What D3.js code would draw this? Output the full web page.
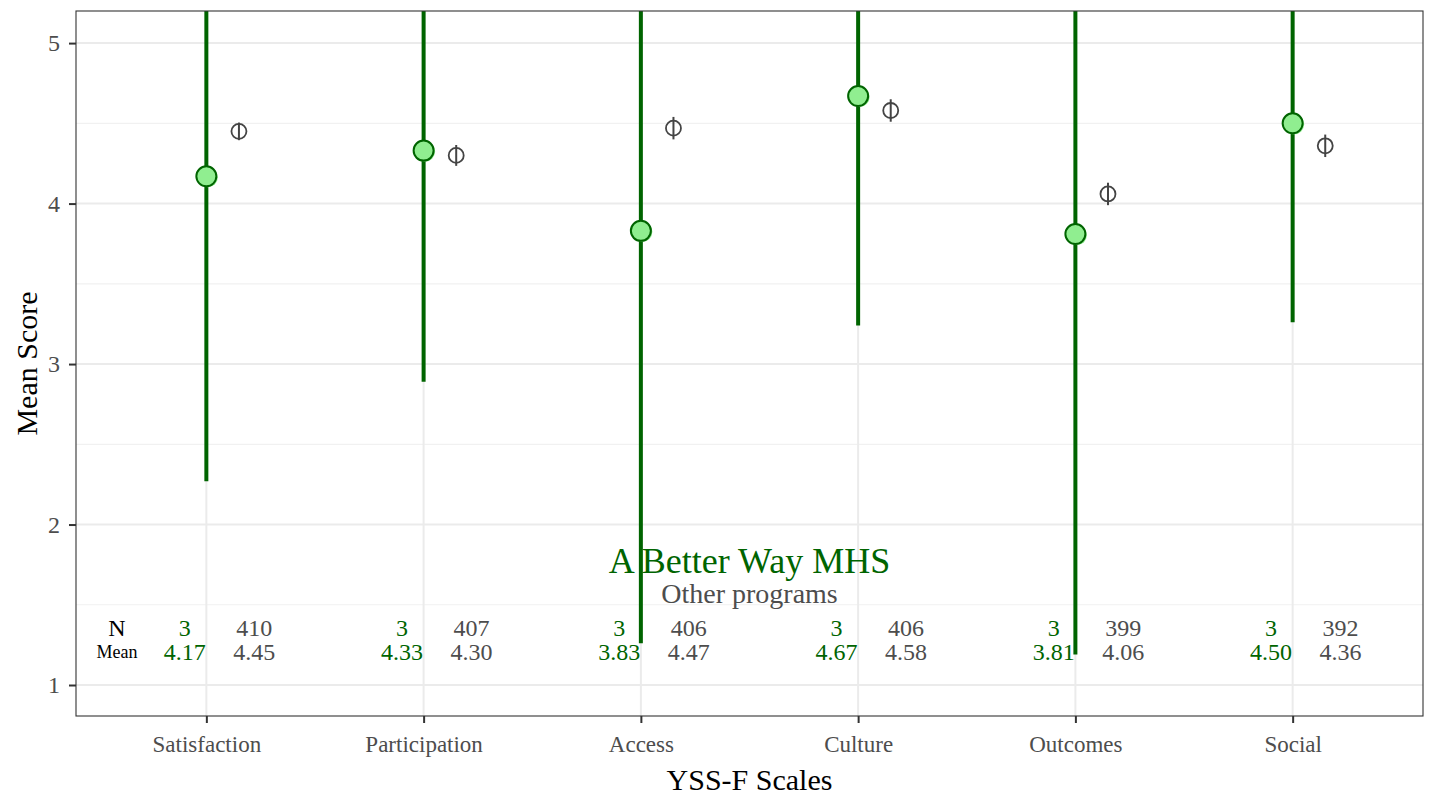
<!DOCTYPE html>
<html><head><meta charset="utf-8">
<script src="https://cdn.jsdelivr.net/npm/d3@7"></script>
<style>body{margin:0;background:#fff}svg{display:block}text{font-family:"Liberation Serif","DejaVu Serif",serif}</style>
</head><body>
<svg id="c" width="1431" height="800"></svg>
<script>
const categories = ["Satisfaction","Participation","Access","Culture","Outcomes","Social"];
const programMean = [4.17,4.33,3.83,4.67,3.81,4.50];
const programLower = [2.27,2.89,1.26,3.24,1.19,3.26];
const programUpper = [6.07,5.77,6.40,6.10,6.43,5.74];
const programN = [3,3,3,3,3,3];
const otherMean = [4.45,4.30,4.47,4.58,4.06,4.36];
const otherLower = [4.395,4.235,4.40,4.51,3.99,4.29];
const otherUpper = [4.505,4.365,4.54,4.65,4.13,4.43];
const otherN = [410,407,406,406,399,392];
const yTicks = [1,2,3,4,5];
const yMinor = [1.5,2.5,3.5,4.5];
const programName = "A Better Way MHS";
const otherName = "Other programs";

const svg = d3.select("#c");
const L=76, R=1423, T=11, B=716;
const x = d3.scaleLinear().domain([0.4, 6.6]).range([L, R]);
const y = d3.scaleLinear().domain([0.8069, 5.2]).range([B, T]);
const idx = categories.map((d,i)=>i+1);
const green="#006400", light="#90ee90", grey="#4d4d4d";

svg.append("defs").append("clipPath").attr("id","pc").append("rect")
  .attr("x",L).attr("y",T).attr("width",R-L).attr("height",B-T);

const g = svg.append("g");
g.selectAll(".mn").data(yMinor).join("line").attr("x1",L).attr("x2",R)
  .attr("y1",d=>y(d)).attr("y2",d=>y(d)).attr("stroke","#f1f1f1").attr("stroke-width",1.2);
g.selectAll(".mj").data(yTicks).join("line").attr("x1",L).attr("x2",R)
  .attr("y1",d=>y(d)).attr("y2",d=>y(d)).attr("stroke","#ebebeb").attr("stroke-width",2);
g.selectAll(".vx").data(idx).join("line").attr("y1",T).attr("y2",B)
  .attr("x1",d=>x(d)).attr("x2",d=>x(d)).attr("stroke","#ebebeb").attr("stroke-width",2);

const ann = svg.append("g");
const yN = y(1.32)+2, yM = y(1.17)+2;
ann.append("text").attr("x",117).attr("y",yN).attr("text-anchor","middle")
  .attr("font-size",24).attr("fill","#000").text("N");
ann.append("text").attr("x",117).attr("y",yM-2).attr("text-anchor","middle")
  .attr("font-size",18).attr("fill","#000").text("Mean");
ann.selectAll(".gn").data(idx).join("text").attr("x",d=>x(d-0.1)).attr("y",yN)
  .attr("text-anchor","middle").attr("font-size",24).attr("fill",green).text((d,i)=>programN[i]);
ann.selectAll(".gm").data(idx).join("text").attr("x",d=>x(d-0.1)).attr("y",yM)
  .attr("text-anchor","middle").attr("font-size",24).attr("fill",green).text((d,i)=>programMean[i].toFixed(2));
ann.selectAll(".on").data(idx).join("text").attr("x",d=>x(d+0.22)).attr("y",yN)
  .attr("text-anchor","middle").attr("font-size",24).attr("fill",grey).text((d,i)=>otherN[i]);
ann.selectAll(".om").data(idx).join("text").attr("x",d=>x(d+0.22)).attr("y",yM)
  .attr("text-anchor","middle").attr("font-size",24).attr("fill",grey).text((d,i)=>otherMean[i].toFixed(2));
ann.append("text").attr("x",x(3.5)).attr("y",y(1.7)).attr("text-anchor","middle")
  .attr("font-size",36).attr("fill",green).text(programName);
ann.append("text").attr("x",x(3.5)).attr("y",y(1.51)).attr("text-anchor","middle")
  .attr("font-size",28).attr("fill",grey).text(otherName);

const m = svg.append("g").attr("clip-path","url(#pc)");
m.selectAll(".pe").data(idx).join("line").attr("x1",d=>x(d)).attr("x2",d=>x(d))
  .attr("y1",(d,i)=>y(programLower[i])).attr("y2",(d,i)=>y(programUpper[i]))
  .attr("stroke",green).attr("stroke-width",4);
m.selectAll(".ps").data(idx).join("circle").attr("cx",d=>x(d)+1.5).attr("cy",(d,i)=>y(programMean[i])+1)
  .attr("r",10).attr("fill",light);
m.selectAll(".pp").data(idx).join("circle").attr("cx",d=>x(d)).attr("cy",(d,i)=>y(programMean[i]))
  .attr("r",10).attr("fill",light).attr("stroke",green).attr("stroke-width",2);
m.selectAll(".oe").data(idx).join("line").attr("x1",d=>x(d+0.15)).attr("x2",d=>x(d+0.15))
  .attr("y1",(d,i)=>y(otherLower[i])).attr("y2",(d,i)=>y(otherUpper[i]))
  .attr("stroke","#444").attr("stroke-width",2);
m.selectAll(".op").data(idx).join("circle").attr("cx",d=>x(d+0.15)).attr("cy",(d,i)=>y(otherMean[i]))
  .attr("r",7.5).attr("fill","none").attr("stroke","#444").attr("stroke-width",1.8);

svg.append("rect").attr("x",L).attr("y",T).attr("width",R-L).attr("height",B-T)
  .attr("fill","none").attr("stroke","#333").attr("stroke-width",1.1);

const ya = svg.append("g").attr("transform",`translate(${L},0)`)
  .call(d3.axisLeft(y).tickValues(yTicks).tickSize(7).tickPadding(9).tickFormat(d3.format("d")));
ya.select(".domain").remove();
ya.selectAll("line").attr("stroke","#333").attr("stroke-width",2);
ya.selectAll("text").attr("font-size",24).attr("fill",grey).style("font-family","Liberation Serif");
const xa = svg.append("g").attr("transform",`translate(0,${B})`)
  .call(d3.axisBottom(x).tickValues(idx).tickSize(7).tickPadding(13).tickFormat(d=>categories[d-1]));
xa.select(".domain").remove();
xa.selectAll("line").attr("stroke","#333").attr("stroke-width",2);
xa.selectAll("text").attr("font-size",23).attr("fill",grey).style("font-family","Liberation Serif");

svg.append("text").attr("transform",`translate(37,${(T+B)/2}) rotate(-90)`).attr("text-anchor","middle")
  .attr("font-size",30).attr("fill","#000").text("Mean Score");
svg.append("text").attr("x",(L+R)/2).attr("y",790).attr("text-anchor","middle")
  .attr("font-size",30).attr("fill","#000").text("YSS-F Scales");
</script>
</body></html>
